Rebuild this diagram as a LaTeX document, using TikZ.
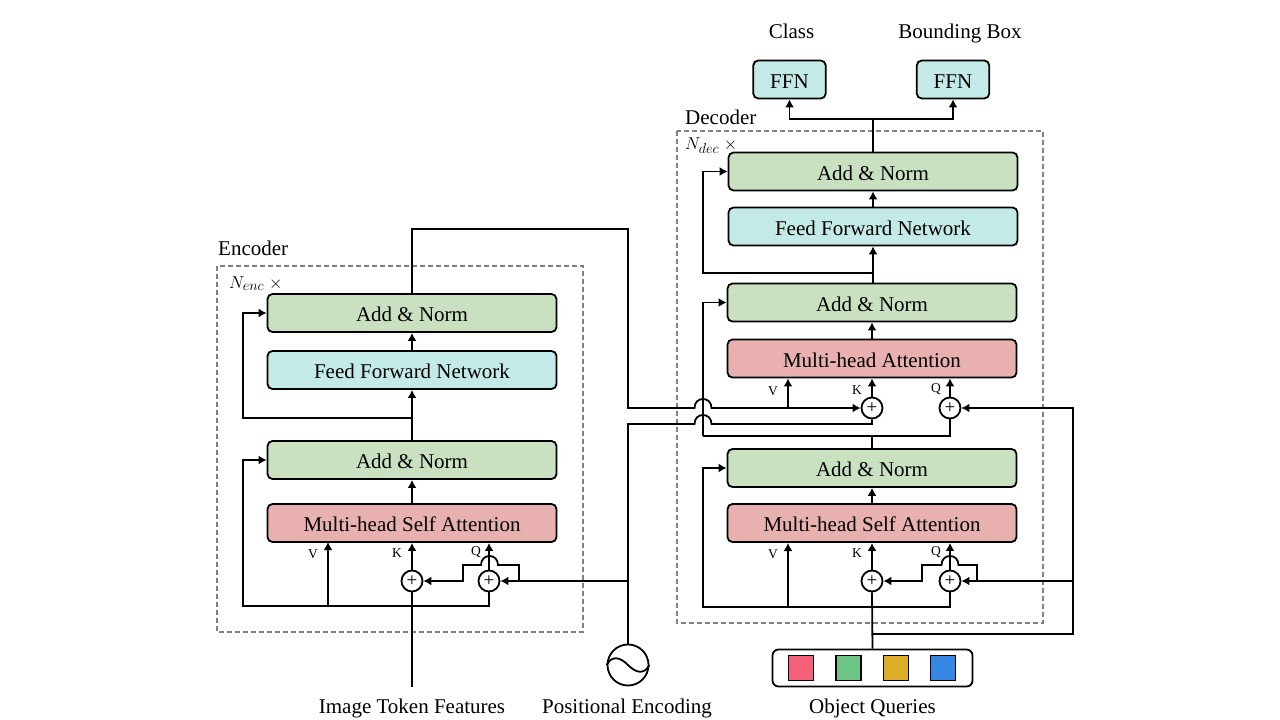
\documentclass[tikz,border=0pt]{standalone}
\usepackage{fontspec}
\setmainfont{Liberation Serif}
\usetikzlibrary{arrows.meta}
\definecolor{addgreen}{HTML}{C9E1C1}
\definecolor{ffncyan}{HTML}{C3EAE6}
\definecolor{attnred}{HTML}{E8B0AE}
\definecolor{qred}{HTML}{F46078}
\definecolor{qgreen}{HTML}{6CC585}
\definecolor{qyellow}{HTML}{DCAD26}
\definecolor{qblue}{HTML}{3787E5}
\tikzset{
  x=1pt,y=-1pt,
  wire/.style={line width=1.8pt,line join=miter},
  arr/.style={wire,-{Latex[length=8pt,width=9pt]}},
  blk/.style={draw,line width=1.8pt,rounded corners=5pt,minimum width=289pt,minimum height=38pt,inner sep=0pt,text height=17pt,text depth=0pt,font=\fontsize{21}{23}\selectfont},
  ffnblk/.style={blk,fill=ffncyan,minimum width=72.5pt,minimum height=38pt},
  plus/.style={circle,draw,fill=white,line width=1.8pt,minimum size=21pt,inner sep=0pt,font=\fontsize{19}{19}\selectfont},
  frame/.style={draw=black!50,line width=1.2pt,dash pattern=on 5pt off 3pt},
  txt/.style={inner sep=0pt,font=\fontsize{21}{23}\selectfont},
  vkq/.style={inner sep=0pt,font=\fontsize{13.5}{14}\selectfont},
  qsq/.style={draw,fill=#1,line width=1.8pt,minimum size=25pt,inner sep=0pt}
}
\begin{document}
\begin{tikzpicture}
  \useasboundingbox (0,0) rectangle (1280,720);

  % Encoder
  \draw[frame] (217,266) rectangle (583,632);
  \draw[frame] (677,131) rectangle (1043,623);
  \node[txt,anchor=base west] (enclab) at (218,255.5) {Encoder};
  \node[txt,anchor=base west] (declab) at (685,124.5) {Decoder};
  \node[txt,anchor=base west,font=\fontsize{19}{19}\selectfont] (nenc) at (229,288) {$N_{enc}$ $\times$};
  \node[txt,anchor=base west,font=\fontsize{19}{19}\selectfont] (ndec) at (685,149) {$N_{dec}$ $\times$};

  \node[blk,fill=addgreen] (eAddB) at (412,313) {Add \& Norm};
  \node[blk,fill=ffncyan] (eFFN) at (412,370) {Feed Forward Network};
  \node[blk,fill=addgreen] (eAddA) at (412,460) {Add \& Norm};
  \node[blk,fill=attnred] (eAttn) at (412,523) {Multi-head Self Attention};
  \node[plus] (eK) at (412,581) {+};
  \node[plus] (eQ) at (489,581) {+};
  \node[vkq] (eVlab) at (313,554) {V};
  \node[vkq] (eKlab) at (397,553) {K};
  \node[vkq] (eQlab) at (476,552) {Q};

  % Decoder
  \node[blk,fill=addgreen] (dAddC) at (873,171.5) {Add \& Norm};
  \node[blk,fill=ffncyan] (dFFN) at (873,226.5) {Feed Forward Network};
  \node[blk,fill=addgreen] (dAddB) at (872,302.5) {Add \& Norm};
  \node[blk,fill=attnred] (dCross) at (872,358.5) {Multi-head Attention};
  \node[blk,fill=addgreen] (dAddA) at (872,468) {Add \& Norm};
  \node[blk,fill=attnred] (dAttn) at (872,523) {Multi-head Self Attention};
  \node[plus] (dKtop) at (872,408) {+};
  \node[plus] (dQtop) at (950,408) {+};
  \node[plus] (dK) at (872,581) {+};
  \node[plus] (dQ) at (950,581) {+};
  \node[vkq] (dVtoplab) at (773,391) {V};
  \node[vkq] (dKtoplab) at (857,390) {K};
  \node[vkq] (dQtoplab) at (936,389) {Q};
  \node[vkq] (dVlab) at (773,554) {V};
  \node[vkq] (dKlab) at (857,553) {K};
  \node[vkq] (dQlab) at (936,552) {Q};

  % Outputs
  \node[ffnblk] (ffnL) at (789.5,79.5) {FFN};
  \node[ffnblk] (ffnR) at (953,79.5) {FFN};
  \node[txt,anchor=base] (classlab) at (791.5,38.5) {Class};
  \node[txt,anchor=base] (boxlab) at (960,38.5) {Bounding Box};

  % Inputs
  \node[txt,anchor=base] (imglab) at (412,713) {Image Token Features};
  \node[txt,anchor=base] (poslab) at (627,713) {Positional Encoding};
  \node[txt,anchor=base] (objlab) at (872.5,713.5) {Object Queries};
  \node[circle,draw,line width=1.8pt,minimum size=41pt,inner sep=0pt] (posenc) at (628,665) {};
  \draw[wire] (posenc.west) .. controls (612,655) and (620,657) .. (posenc.center)
    .. controls (636,673) and (644,675) .. (posenc.east);
  \node[draw,line width=1.8pt,rounded corners=6pt,minimum width=200pt,minimum height=37pt,inner sep=0pt] (objbox) at (872.5,668) {};
  \foreach \nm/\col/\xx in {qa/qred/801,qb/qgreen/848.5,qc/qyellow/896,qd/qblue/943}
    \node[qsq=\col] (\nm) at (\xx,668) {};

  % Encoder wires
  \coordinate (imgend) at (412,687);
  \coordinate (eLow) at (243,606);
  \coordinate (eVbase) at (328,606);
  \coordinate (eVtop) at (328,542);
  \coordinate (eFork) at (412,418);
  \coordinate (eSkip) at (243,418);
  \draw[wire] (imgend) -- (eK.south);
  \draw[arr] (eK.north) -- (eAttn.south);
  \draw[arr] (eQ.north) -- (eQ.north |- eAttn.south);
  \draw[arr] (eQ.south) |- (eLow) |- (eAddA.west);
  \draw[arr] (eVbase) -- (eVtop);
  \draw[arr] (eAttn.north) -- (eAddA.south);
  \draw[arr] (eAddA.north) -- (eFFN.south);
  \draw[arr] (eFork) -- (eSkip) |- (eAddB.west);
  \draw[arr] (eFFN.north) -- (eAddB.south);

  % Positional encoding
  \coordinate (posA) at (628,581);
  \coordinate (posB) at (628,424);
  \coordinate (eTap) at (519,581);
  \draw[arr] (posenc.north) -- (posB |- eQ.east) -- (eQ.east);
  \draw[wire] (posA) -- (posB) -- (694.5,424) .. controls +(0,-12) and +(0,-12) .. (711.5,424)
    -- (872,424) -- (dKtop.south);
  \draw[arr] (eTap) -- (519,565) -- (498,565) .. controls +(0,-12) and +(0,-12) .. (481,565)
    -- (463,565) -- (463,581) -- (eK.east);

  % Encoder memory
  \coordinate (eTop) at (412,229);
  \coordinate (eRight) at (628,229);
  \coordinate (eDown) at (628,408);
  \coordinate (dVbaseTop) at (788,408);
  \draw[arr] (eAddB.north) -- (eTop) -- (eRight) -- (eDown) -- (694.5,408)
    .. controls +(0,-12) and +(0,-12) .. (711.5,408) -- (dKtop.west);
  \draw[arr] (dVbaseTop) -- (dVbaseTop |- dCross.south);

  % Decoder wires
  \coordinate (dLow) at (703,607);
  \coordinate (dVbase) at (788,607);
  \coordinate (dVtop) at (788,543);
  \coordinate (dFork) at (872,436);
  \coordinate (dLeft) at (703,436);
  \coordinate (dForkB) at (873,273);
  \coordinate (dSkip) at (703,273);
  \coordinate (qFork) at (872,634);
  \coordinate (qRight) at (1073,634);
  \coordinate (qTap) at (1073,581);
  \coordinate (dTap) at (977,581);
  \draw[wire] (objbox.north) -- (dK.south);
  \draw[arr] (dK.north) -- (dAttn.south);
  \draw[arr] (dQ.north) -- (dQ.north |- dAttn.south);
  \draw[arr] (dQ.south) |- (dLow) |- (dAddA.west);
  \draw[arr] (dVbase) -- (dVtop);
  \draw[arr] (dAttn.north) -- (dAddA.south);
  \draw[arr] (qFork) -- (qRight) |- (dQtop.east);
  \draw[arr] (qTap) -- (dQ.east);
  \draw[arr] (dTap) -- (977,565) -- (958.5,565) .. controls +(0,-12) and +(0,-12) .. (941.5,565)
    -- (922,565) -- (922,581) -- (dK.east);
  \draw[wire] (dAddA.north) -- (dFork);
  \draw[wire] (dQtop.south) |- (dLeft);
  \draw[arr] (dLeft) |- (dAddB.west);
  \draw[arr] (dKtop.north) -- (dCross.south);
  \draw[arr] (dQtop.north) -- (dQtop.north |- dCross.south);
  \draw[arr] (dCross.north) -- (dAddB.south);
  \draw[arr] (dFFN.south |- dAddB.north) -- (dFFN.south);
  \draw[arr] (dForkB) -- (dSkip) |- (dAddC.west);
  \draw[arr] (dFFN.north) -- (dAddC.south);

  % Outputs wires
  \coordinate (outFork) at (873,119);
  \draw[wire] (dAddC.north) -- (outFork);
  \draw[arr] (outFork) -| (ffnL.south);
  \draw[arr] (outFork) -| (ffnR.south);
\end{tikzpicture}
\end{document}
